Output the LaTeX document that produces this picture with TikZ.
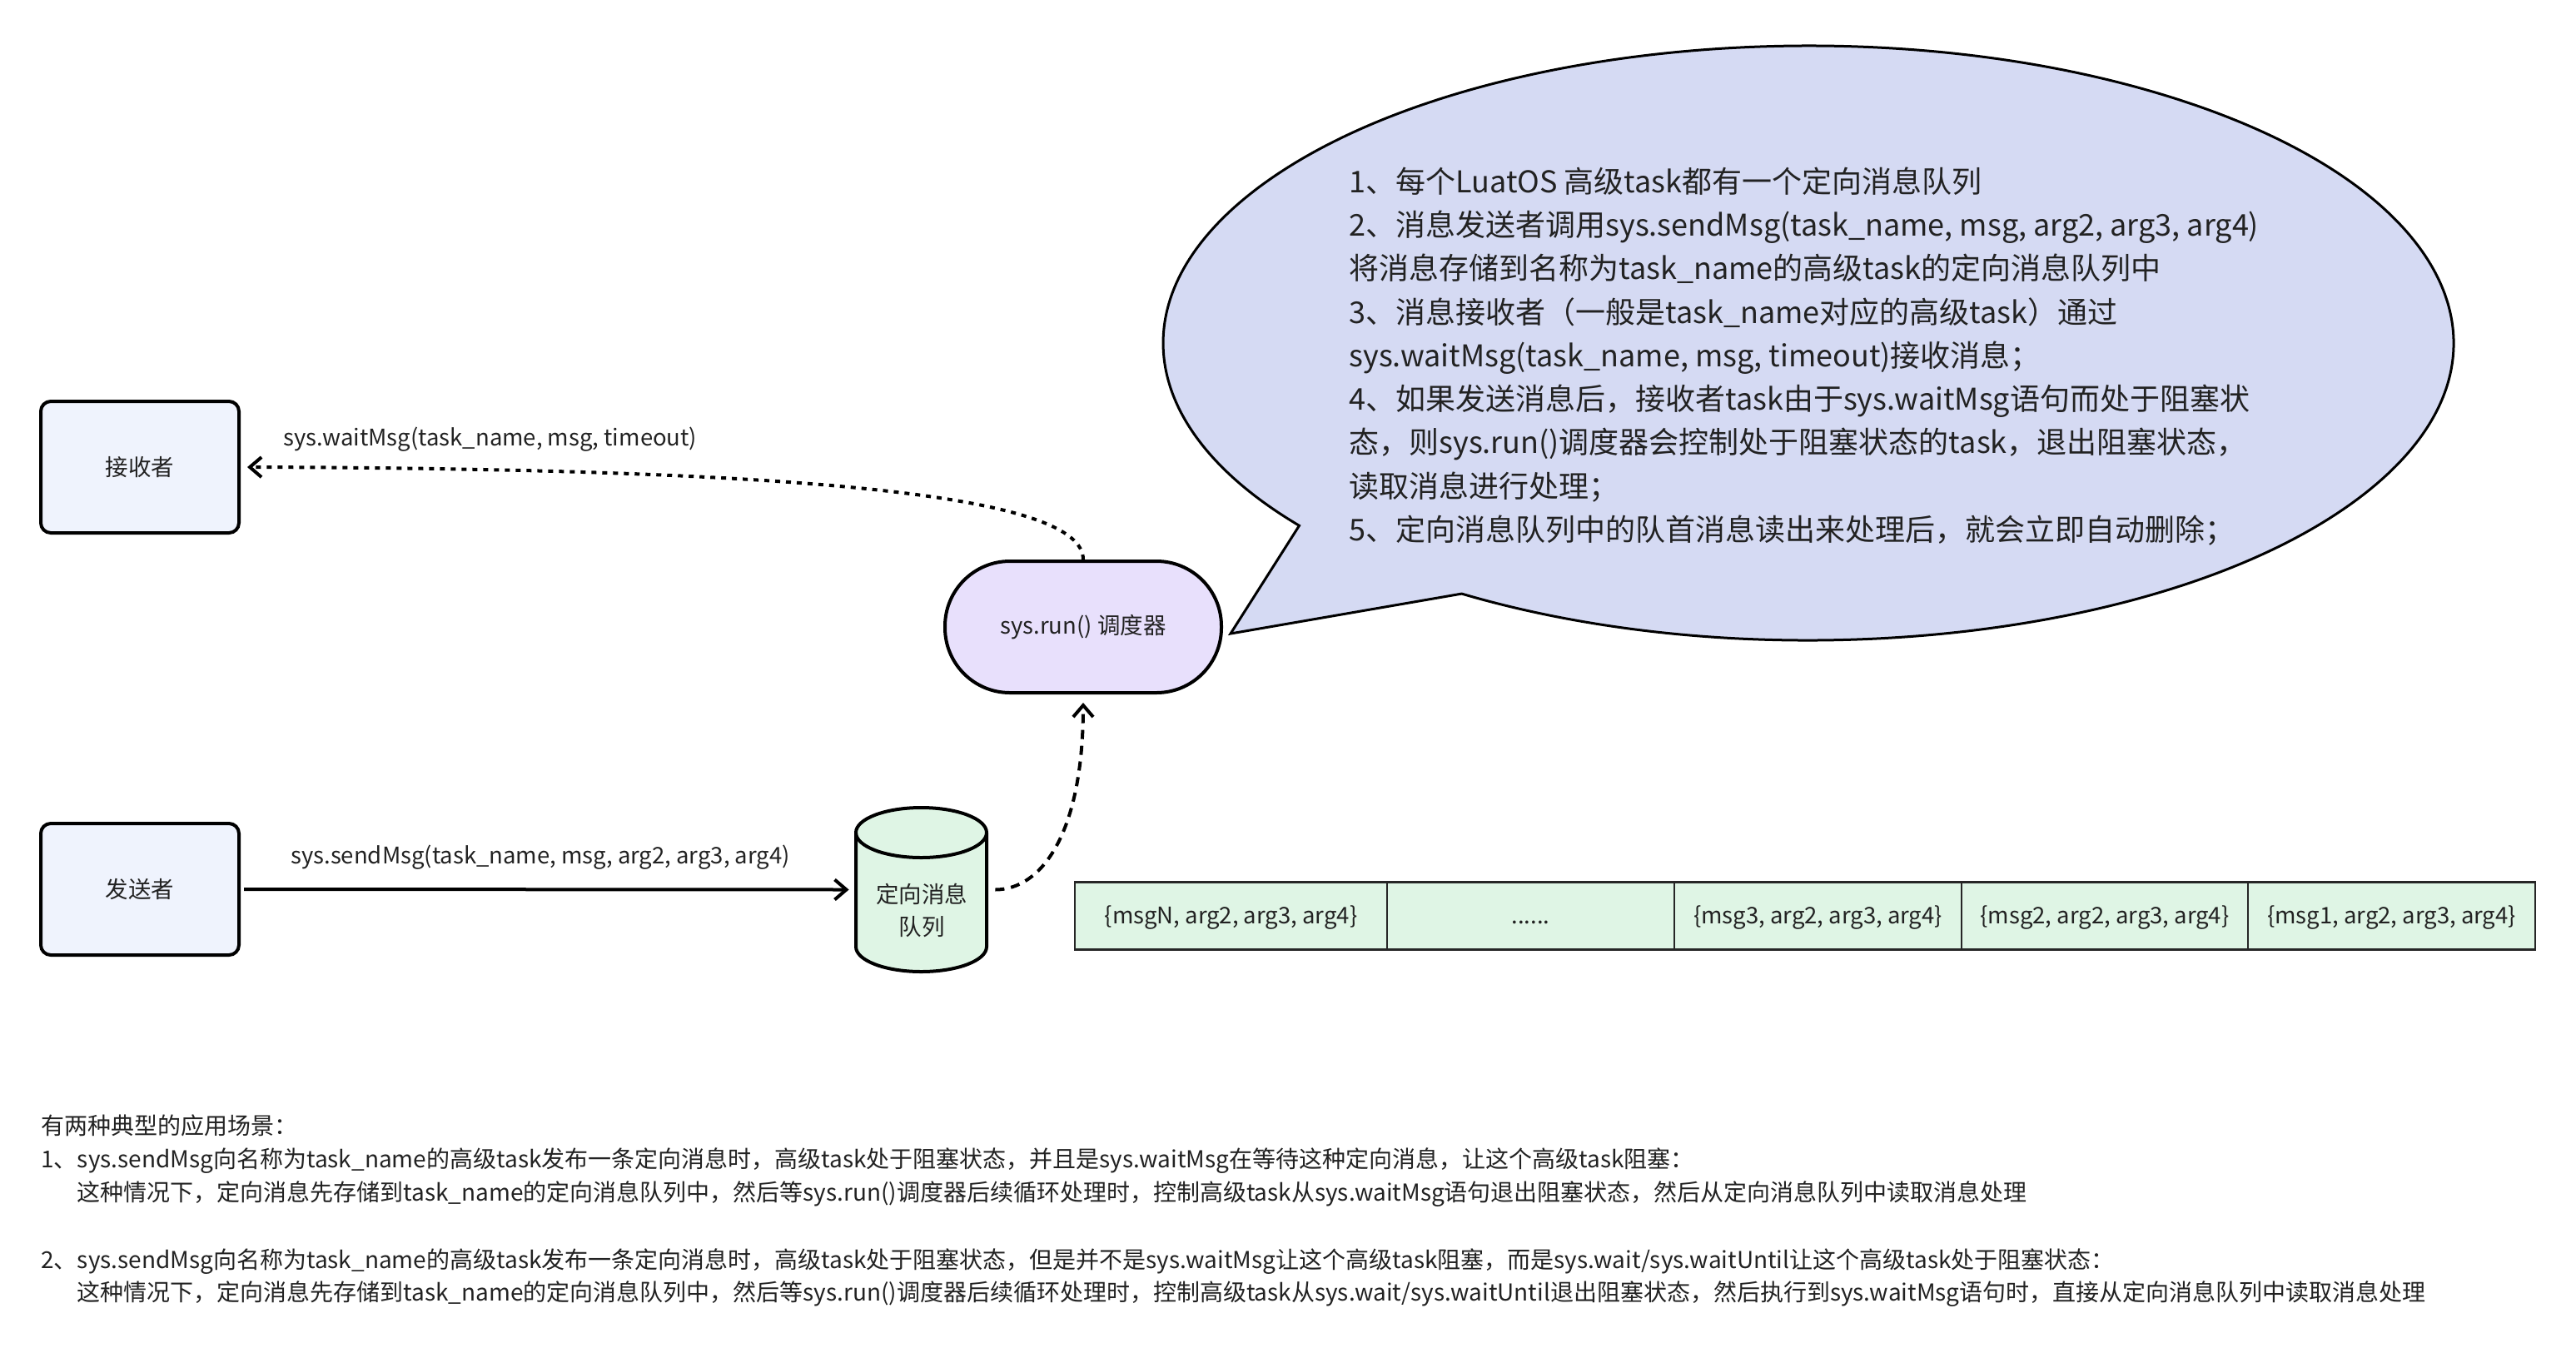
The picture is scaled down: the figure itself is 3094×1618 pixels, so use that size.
\documentclass[tikz,border=0pt]{standalone}
\usepackage{fontspec}
\setmainfont{Noto Sans CJK SC}
\usetikzlibrary{arrows.meta}
\definecolor{boxfill}{HTML}{EFF3FD}
\definecolor{runfill}{HTML}{E8E0FC}
\definecolor{qfill}{HTML}{DFF5E5}
\definecolor{bubfill}{HTML}{D5DAF3}
\definecolor{txt}{HTML}{222222}
\newcommand\fsSmall{\fontsize{13.75pt}{19.5pt}\selectfont}
\newcommand\fsNote{\fontsize{14pt}{19.5pt}\selectfont}
\newcommand\fsBig{\fontsize{18pt}{26pt}\selectfont}
\begin{document}
\begin{tikzpicture}[x=0.5pt,y=-0.5pt,
  every node/.style={text=txt},
  actor/.style={draw=black, line width=2pt, fill=boxfill, rounded corners=6pt,
    minimum width=119pt, minimum height=79pt, inner sep=0pt, font=\fsSmall},
  runbox/.style={draw=black, line width=2pt, fill=runfill, rounded corners=39pt,
    minimum width=166pt, minimum height=79pt, inner sep=0pt, font=\fsSmall},
  cell/.style={draw=black!85, line width=1.2pt, fill=qfill, minimum height=40.5pt,
    inner sep=0pt, font=\fsSmall, text height=9.6pt, text depth=0pt},
  lbl/.style={font=\fsSmall, inner sep=0pt},
  bigtxt/.style={font=\fsBig, inner sep=0pt, anchor=base west},
  smalltxt/.style={font=\fsNote, inner sep=0pt, anchor=base west},
  tip/.style={-{Straight Barb[length=7pt,width=12pt]}},
  solidarrow/.style={tip, line width=2pt},
  dotarrow/.style={tip, line width=2pt, dash pattern=on 3pt off 3.5pt},
  dasharrow/.style={tip, line width=2pt, dash pattern=on 5.5pt off 4pt},
  bubble/.style={draw=black, line width=1.5pt, fill=bubfill},
  cyl/.style={draw=black, line width=2pt, fill=qfill}
]
\path[use as bounding box, fill=white] (0,0) rectangle (3094,1618);

% speech bubble
\draw[bubble] (2172,412) ++(122.5:775 and 357)
  arc[start angle=122.5, end angle=-217.9, x radius=775, y radius=357]
  -- (1478,761) -- cycle;

\node[bigtxt] (b1) at (1620,231) {1、每个LuatOS 高级task都有一个定向消息队列};
\node[bigtxt] (b2) at (1620,283) {2、消息发送者调用sys.sendMsg(task\_name, msg, arg2, arg3, arg4)};
\node[bigtxt] (b3) at (1620,335) {将消息存储到名称为task\_name的高级task的定向消息队列中};
\node[bigtxt] (b4) at (1620,388) {3、消息接收者（一般是task\_name对应的高级task）通过};
\node[bigtxt] (b5) at (1620,440) {sys.waitMsg(task\_name, msg, timeout)接收消息；};
\node[bigtxt] (b6) at (1620,492) {4、如果发送消息后，接收者task由于sys.waitMsg语句而处于阻塞状};
\node[bigtxt] (b7) at (1620,544) {态，则sys.run()调度器会控制处于阻塞状态的task，退出阻塞状态，};
\node[bigtxt] (b8) at (1620,597) {读取消息进行处理；};
\node[bigtxt] (b9) at (1620,649) {5、定向消息队列中的队首消息读出来处理后，就会立即自动删除；};

% actors
\node[actor] (recv) at (168,561) {接收者};
\node[actor] (send) at (168,1068) {发送者};
\node[runbox] (run) at (1301,753) {sys.run() 调度器};

% cylinder (message queue)
\draw[cyl] (1028,1000) -- (1028,1137)
  arc[start angle=180, end angle=0, x radius=78.5, y radius=30]
  -- (1185,1000)
  arc[start angle=0, end angle=-180, x radius=78.5, y radius=30] -- cycle;
\draw[line width=2pt] (1028,1000) arc[start angle=180, end angle=0, x radius=78.5, y radius=30];
\node[minimum width=78.5pt, minimum height=98.5pt, inner sep=0pt] (q) at (1106.5,1068.5) {};
\node[lbl, align=center] (qlabel) at (1107,1093) {定向消息\\队列};

% labels
\node[lbl, anchor=base west] (lw) at (340,535) {sys.waitMsg(task\_name, msg, timeout)};
\node[lbl, anchor=base west] (ls) at (349,1037) {sys.sendMsg(task\_name, msg, arg2, arg3, arg4)};

% connectors
\draw[solidarrow, shorten <=2pt, shorten >=4pt] (send.east) -- (q.west);
\draw[dasharrow, shorten <=5pt, shorten >=5pt] (q.east) .. controls +(65,0) and +(0,168) .. (run.south);
\draw[dotarrow, shorten >=4pt] (run.north) .. controls +(0,-75) and +(703,2) .. (recv.east);

% queue table
\node[cell, minimum width=187.5pt] (c1) at (1478.5,1100) {\{msgN, arg2, arg3, arg4\}};
\node[cell, minimum width=172.5pt] (c2) at (1838.5,1100) {......};
\node[cell, minimum width=172.5pt] (c3) at (2183.5,1100) {\{msg3, arg2, arg3, arg4\}};
\node[cell, minimum width=172pt] (c4) at (2528,1100) {\{msg2, arg2, arg3, arg4\}};
\node[cell, minimum width=172.5pt] (c5) at (2872.5,1100) {\{msg1, arg2, arg3, arg4\}};

% bottom notes
\node[smalltxt] (n0) at (49,1362) {有两种典型的应用场景：};
\node[smalltxt] (n1) at (49,1402) {1、sys.sendMsg向名称为task\_name的高级task发布一条定向消息时，高级task处于阻塞状态，并且是sys.waitMsg在等待这种定向消息，让这个高级task阻塞：};
\node[smalltxt] (n2) at (92,1442) {这种情况下，定向消息先存储到task\_name的定向消息队列中，然后等sys.run()调度器后续循环处理时，控制高级task从sys.waitMsg语句退出阻塞状态，然后从定向消息队列中读取消息处理};
\node[smalltxt] (n3) at (49,1523) {2、sys.sendMsg向名称为task\_name的高级task发布一条定向消息时，高级task处于阻塞状态，但是并不是sys.waitMsg让这个高级task阻塞，而是sys.wait/sys.waitUntil让这个高级task处于阻塞状态：};
\node[smalltxt] (n4) at (92,1562) {这种情况下，定向消息先存储到task\_name的定向消息队列中，然后等sys.run()调度器后续循环处理时，控制高级task从sys.wait/sys.waitUntil退出阻塞状态，然后执行到sys.waitMsg语句时，直接从定向消息队列中读取消息处理};
\end{tikzpicture}
\end{document}
